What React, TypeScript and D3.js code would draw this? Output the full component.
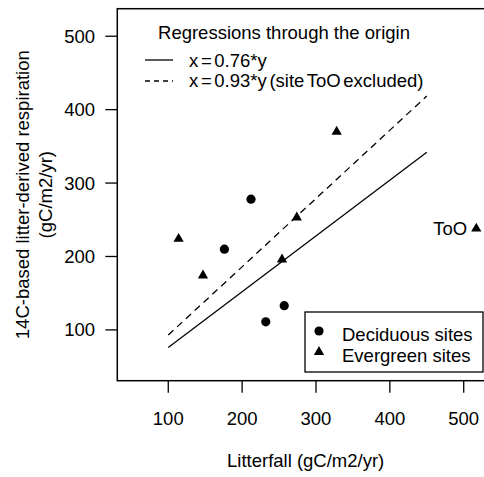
import React from "react";
import * as d3 from "d3";

// Site measurements: [litterfall, 14C-based litter-derived respiration]
const deciduousX = [212, 176, 257, 232];
const deciduousY = [278, 210, 133, 111];
const evergreenX = [114, 147, 254, 274, 328, 517];
const evergreenY = [224, 174, 196, 253, 370, 238];
const labelledSite = { name: "ToO", x: 517, y: 238 };

// Regressions through the origin
const slopes = [0.76, 0.93];
const lineRange = [100, 450];

const xTicks = [100, 200, 300, 400, 500];
const yTicks = [100, 200, 300, 400, 500];

const regressionTitle = "Regressions through the origin";
const regressionLabels = ["x = 0.76*y", "x = 0.93*y (site ToO excluded)"];
const siteLabels = ["Deciduous sites", "Evergreen sites"];

const W = 484;
const H = 477;
const FONT = "'Liberation Sans', Arial, Helvetica, sans-serif";
const FS = 18.5;

export default function App() {
  const x = d3.scaleLinear().domain([31, 541]).range([117.3, 494]);
  const y = d3.scaleLinear().domain([30.8, 537.5]).range([380.7, 8.7]);

  const left = x.range()[0];
  const right = x.range()[1];
  const bottom = y.range()[0];
  const top = y.range()[1];

  const tri = d3.symbol().type(d3.symbolTriangle).size(46)();
  const line = d3
    .line<number[]>()
    .x((d) => x(d[0]))
    .y((d) => y(d[1]));

  const regLines = slopes.map((s) => line(lineRange.map((v) => [v, s * v])));

  return (
    <svg
      width={W}
      height={H}
      style={{ position: "absolute", left: 0, top: 0, background: "#fff" }}
      fontFamily={FONT}
      fontSize={FS}
    >
      {/* plot frame */}
      <rect
        x={left}
        y={top}
        width={right - left}
        height={bottom - top}
        fill="none"
        stroke="#000"
        strokeWidth={1.5}
      />

      {/* x axis */}
      {xTicks.map((t) => (
        <g key={"xt" + t}>
          <line x1={x(t)} x2={x(t)} y1={bottom} y2={bottom + 12} stroke="#000" strokeWidth={1.3} />
          <text x={x(t)} y={425} textAnchor="middle">
            {t}
          </text>
        </g>
      ))}
      <text x={(left + right) / 2} y={467} textAnchor="middle">
        Litterfall (gC/m2/yr)
      </text>

      {/* y axis */}
      {yTicks.map((t) => (
        <g key={"yt" + t}>
          <line x1={left - 12} x2={left} y1={y(t)} y2={y(t)} stroke="#000" strokeWidth={1.3} />
          <text x={95} y={y(t)} dy="0.35em" textAnchor="end">
            {t}
          </text>
        </g>
      ))}
      <g transform={`translate(29,${(top + bottom) / 2}) rotate(-90)`}>
        <text textAnchor="middle">14C-based litter-derived respiration</text>
        <text y={23} textAnchor="middle">(gC/m2/yr)</text>
      </g>

      {/* regression lines */}
      <path d={regLines[0] || ""} fill="none" stroke="#000" strokeWidth={1.3} />
      <path d={regLines[1] || ""} fill="none" stroke="#000" strokeWidth={1.3} strokeDasharray="7,5" />

      {/* points */}
      {deciduousX.map((v, i) => (
        <circle key={"d" + i} cx={x(v)} cy={y(deciduousY[i])} r={4.6} fill="#000" />
      ))}
      {evergreenX.map((v, i) => (
        <path key={"e" + i} d={tri || ""} transform={`translate(${x(v)},${y(evergreenY[i])})`} fill="#000" />
      ))}
      <text x={x(labelledSite.x) - 9} y={y(labelledSite.y)} dy="0.35em" textAnchor="end">
        {labelledSite.name}
      </text>

      {/* regression legend */}
      <text x={284} y={39} textAnchor="middle">
        {regressionTitle}
      </text>
      <line x1={145} x2={173} y1={60} y2={60} stroke="#000" strokeWidth={1.3} />
      <line x1={145} x2={173} y1={81} y2={81} stroke="#000" strokeWidth={1.3} strokeDasharray="5,4" />
      <text x={189} y={67} wordSpacing={-2.5}>{regressionLabels[0]}</text>
      <text x={189} y={87} wordSpacing={-2.5}>{regressionLabels[1]}</text>

      {/* site legend */}
      <rect x={305} y={312} width={178} height={60} fill="#fff" stroke="#000" strokeWidth={1.3} />
      <circle cx={319} cy={331} r={4.6} fill="#000" />
      <path d={tri || ""} transform="translate(319,352)" fill="#000" />
      <text x={342} y={341}>{siteLabels[0]}</text>
      <text x={342} y={362}>{siteLabels[1]}</text>
    </svg>
  );
}
